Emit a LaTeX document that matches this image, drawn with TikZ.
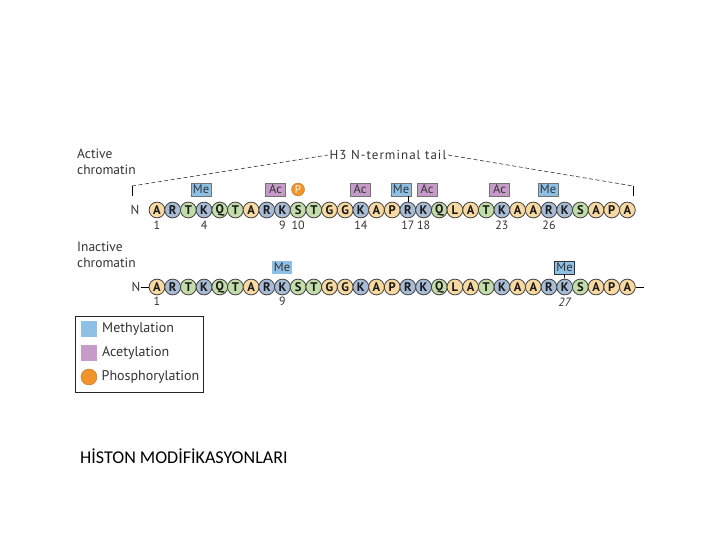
\documentclass[tikz,border=0pt]{standalone}
\usepackage{fontspec}
\usetikzlibrary{calc}
\setmainfont{PT Sans}
\newfontfamily\capfont{Carlito}
\definecolor{cor}{HTML}{F7D9A1}
\definecolor{cbl}{HTML}{A9BCD6}
\definecolor{cgr}{HTML}{C2DDAA}
\definecolor{cme}{HTML}{8EC0E6}
\definecolor{cac}{HTML}{C79BC9}
\definecolor{cph}{HTML}{F0932B}
\definecolor{ctxt}{HTML}{333333}
\tikzset{
  res/.style={circle,draw=black!75,line width=0.8pt,minimum size=15.8pt,inner sep=0pt,
    font=\fontsize{12.5}{12.5}\selectfont\bfseries,text=black!90},
  resA/.style={fill=cor}, resG/.style={fill=cor}, resP/.style={fill=cor}, resL/.style={fill=cor},
  resR/.style={fill=cbl}, resK/.style={fill=cbl},
  resT/.style={fill=cgr}, resQ/.style={fill=cgr}, resS/.style={fill=cgr},
  modbox/.style={draw=black!55,line width=0.4pt,minimum width=20pt,minimum height=13.5pt,inner sep=0pt,
    font=\fontsize{12.5}{12.5}\selectfont,text=black!80},
  mebox/.style={modbox,fill=cme},
  acbox/.style={modbox,fill=cac},
  num/.style={font=\fontsize{12}{12}\selectfont,text=ctxt,inner sep=0pt},
  lbl/.style={font=\fontsize{13.5}{16}\selectfont,text=ctxt,align=left,inner sep=0pt},
  leg/.style={font=\fontsize{14}{14}\selectfont,text=ctxt,inner sep=0pt,anchor=west},
  dline/.style={dashed,dash pattern=on 4pt off 2.5pt,line width=0.6pt,black!80},
}
\begin{document}
\begin{tikzpicture}[x=1pt,y=-1pt]
\useasboundingbox (0,0) rectangle (720,540);

% residues
\foreach \l [count=\i] in {A,R,T,K,Q,T,A,R,K,S,T,G,G,K,A,P,R,K,Q,L,A,T,K,A,A,R,K,S,A,P,A}{
  \node[res,res\l] (a\i) at ({157+(\i-1)*15.68},210) {\l};
  \node[res,res\l] (b\i) at ({157+(\i-1)*15.68},287) {\l};
}

% labels
\node[lbl,anchor=north west] (act) at (77,149) {Active\\chromatin};
\node[lbl,anchor=north west] (inact) at (77,242) {Inactive\\chromatin};

% N terminals
\node[font=\fontsize{13}{13}\selectfont,text=ctxt,inner sep=0pt] (na) at (135,210) {N};
\node[font=\fontsize{13}{13}\selectfont,text=ctxt,inner sep=0pt] (nb) at (136,287) {N};
\draw[line width=0.8pt] (nb.east) -- (b1.west);
\coordinate (bend) at (644,287);
\draw[line width=0.8pt] (b31.east) -- (bend);

% H3 tail bracket
\node[font=\fontsize{13}{13}\selectfont\addfontfeatures{LetterSpace=8},text=ctxt,inner sep=1.5pt] (h3) at (388,155) {H3 N-terminal tail};
\coordinate (bl1) at (132,186); \coordinate (bl2) at (132,196);
\coordinate (br1) at (633,186); \coordinate (br2) at (633,196);
\draw[line width=0.6pt] (bl2) -- (bl1);
\draw[line width=0.6pt] (br2) -- (br1);
\draw[dline] (bl1) -- (h3.west);
\draw[dline] (h3.east) -- (br1);

% active modifications
\node[mebox] (m4) at (201,189.5) {Me};
\node[acbox] (c9) at (275.5,189.5) {Ac};
\node[circle,fill=cph,draw=cph!80!black,line width=0.4pt,minimum size=13pt,inner sep=0pt,
  font=\fontsize{11}{11}\selectfont,text=white] (p10) at (298,189.5) {P};
\node[acbox] (c14) at (360,189.5) {Ac};
\node[mebox] (m17) at (401,189.5) {Me};
\draw[line width=0.7pt] (a17.north |- m17.south) -- (a17.north);
\node[acbox] (c18) at (427,189.5) {Ac};
\node[acbox] (c23) at (499.5,189.5) {Ac};
\node[mebox] (m26) at (548,189.5) {Me};

% active numbers
\foreach \i in {1,4,9,10,14,17,18,23,26}{
  \node[num] (na\i) at ($(a\i)+(0,15)$) {\i};
}

% inactive modifications
\node[mebox,draw=none] (mb9) at (282,267.5) {Me};
\node[mebox,draw=black!80] (mb27) at (564.5,267.5) {Me};
\draw[line width=0.7pt] (mb27.south) -- (b27.north);
\node[num] (nb1) at ($(b1)+(0,14)$) {1};
\node[num] (nb9) at ($(b9)+(0,14)$) {9};
\node[num,font=\fontsize{12}{12}\selectfont\itshape] (nb27) at ($(b27)+(0,15)$) {27};

% legend
\node[draw=black!85,line width=0.8pt,minimum width=128pt,minimum height=76pt,anchor=north west,inner sep=0pt] (legbox) at (75,316) {};
\node[fill=cme,minimum size=16pt,inner sep=0pt] (lm) at (89,329) {};
\node[fill=cac,minimum size=16pt,inner sep=0pt] (la) at (89,353) {};
\node[circle,fill=cph,draw=cph!80!black,line width=0.4pt,minimum size=16pt,inner sep=0pt] (lp) at (89,377) {};
\node[leg] (tm) at (102,329) {Methylation};
\node[leg] (ta) at (102,353) {Acetylation};
\node[leg] (tp) at (101.5,377) {Phosphorylation};

% caption
\node[anchor=west,inner sep=0pt,font=\capfont\fontsize{18}{18}\selectfont] (cap) at (80,456) {HİSTON MODİFİKASYONLARI};
\end{tikzpicture}
\end{document}
